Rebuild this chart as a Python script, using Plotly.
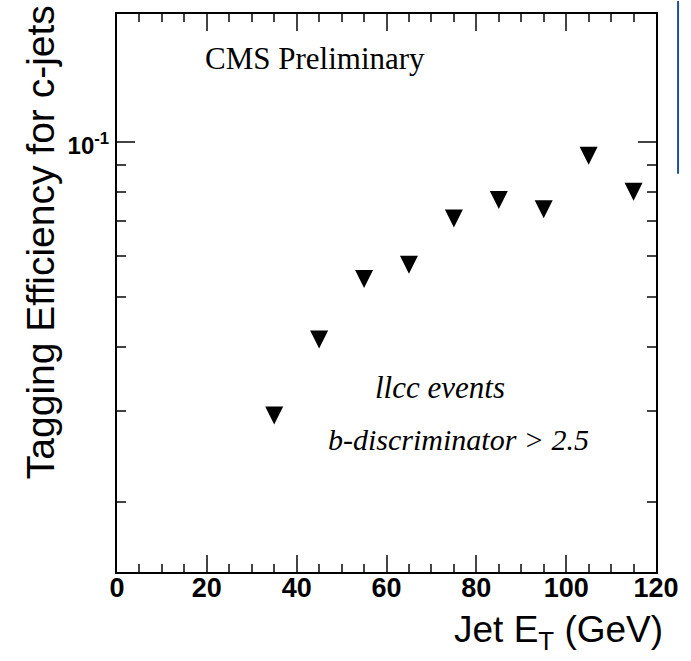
import numpy as np
import plotly.graph_objects as go

jet_et = [35, 45, 55, 65, 75, 85, 95, 105, 115]
efficiency = [0.0294, 0.0413, 0.0541, 0.0577, 0.0709, 0.0770, 0.0739, 0.0939, 0.0799]

x_major = [0, 20, 40, 60, 80, 100, 120]
x_minor = [5, 10, 15, 25, 30, 35, 45, 50, 55, 65, 70, 75, 85, 90, 95, 105, 110, 115]
y_major = [0.1]
y_major_text = ["10<sup>-1</sup>"]
y_minor = [0.02, 0.03, 0.04, 0.05, 0.06, 0.07, 0.08, 0.09]

W, H = 691, 661
L, R, T, B = 117, 24, 13, 89

fig = go.Figure()
fig.add_trace(go.Scatter(
    x=jet_et, y=efficiency, mode="markers",
    marker=dict(symbol="arrow-down", size=18, standoff=9, color="black",
                line=dict(width=0)),
    showlegend=False, hoverinfo="skip"))

axis_common = dict(
    showgrid=False, zeroline=False, showline=True, linecolor="black", linewidth=2,
    mirror="ticks", ticks="inside", tickcolor="#444", tickwidth=1.5,
)

fig.update_xaxes(
    range=[0, 120], tickmode="array", tickvals=x_major, ticktext=[str(v) for v in x_major],
    ticklen=17, ticklabelstandoff=-9,
    minor=dict(tickmode="array", tickvals=x_minor, ticklen=8, ticks="inside",
               tickcolor="#444", tickwidth=1.5, showgrid=False),
    tickfont=dict(family="Liberation Sans", size=27, color="black", weight="bold"),
    **axis_common)

fig.update_yaxes(
    type="log", range=[np.log10(0.01462), np.log10(0.1768)],
    tickmode="array", tickvals=y_major, ticktext=y_major_text, ticklen=18,
    minor=dict(tickmode="array", tickvals=y_minor, ticklen=9, ticks="inside",
               tickcolor="#444", tickwidth=1.5, showgrid=False),
    tickfont=dict(family="Liberation Sans", size=24, color="black", weight="bold"),
    ticklabelshift=4, ticklabelstandoff=1,
    **axis_common)

def px_x(p):
    return (p - L) / (W - L - R)

def px_y(p):
    return (H - B - p) / (H - T - B)

annotations = [
    dict(text="CMS Preliminary", x=px_x(319), y=px_y(58),
         font=dict(family="Liberation Serif", size=31, color="black")),
    dict(text="<i>llcc events</i>", x=px_x(447), y=px_y(387),
         font=dict(family="Liberation Serif", size=31, color="black")),
    dict(text="<i>b-discriminator &gt; 2.5</i>", x=px_x(465.5), y=px_y(439),
         font=dict(family="Liberation Serif", size=30, color="black")),
    dict(text="Tagging Efficiency for c-jets", x=px_x(39), y=px_y(242), textangle=-90,
         font=dict(family="Liberation Sans", size=39, color="black")),
    dict(text="Jet E<sub>T</sub> (GeV)", x=px_x(676), y=px_y(632), xanchor="right",
         font=dict(family="Liberation Sans", size=37, color="black")),
]
for a in annotations:
    a.setdefault("xanchor", "center")
    a.update(xref="paper", yref="paper", showarrow=False, yanchor="middle")
fig.update_layout(annotations=annotations)

fig.add_shape(type="line", xref="paper", yref="paper",
              x0=px_x(689.5), x1=px_x(689.5), y0=px_y(0), y1=px_y(173),
              line=dict(color="#1e4f9c", width=2))

fig.update_layout(
    width=W, height=H, margin=dict(l=L, r=R, t=T, b=B),
    paper_bgcolor="white", plot_bgcolor="white",
)

fig.write_html("out.html")
